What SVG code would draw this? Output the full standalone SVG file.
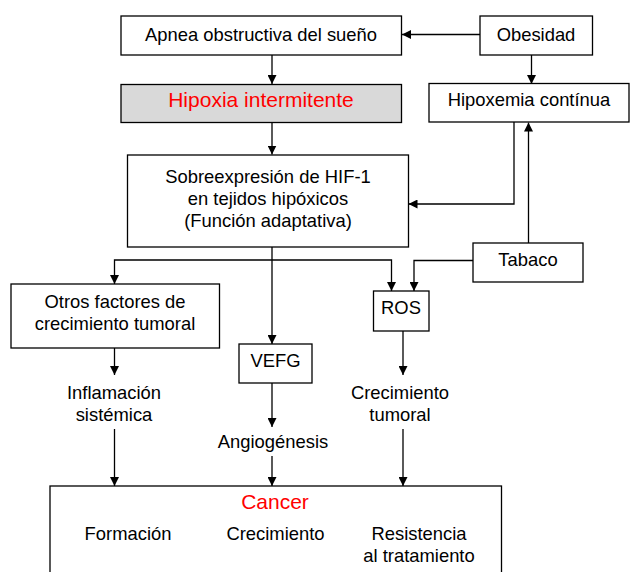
<svg xmlns="http://www.w3.org/2000/svg" width="630" height="572" viewBox="0 0 630 572">
<defs>
<marker id="ah" viewBox="0 0 10 10" refX="10" refY="5" markerWidth="9" markerHeight="9" markerUnits="userSpaceOnUse" orient="auto">
<path d="M0,0 L10,5 L0,10 Z" fill="#000"/>
</marker>
<style>
.box{fill:#fff;stroke:#000;stroke-width:1.3}
.grey{fill:#d9d9d9}
text{font-family:"Liberation Sans",Arial,sans-serif;font-size:18.4px;fill:#000;text-anchor:middle}
.red{fill:#ff0000;font-size:21px}
.c{fill:none;stroke:#000;stroke-width:1.3}
.a{marker-end:url(#ah)}
</style>
</defs>
<rect width="630" height="572" fill="#fff"/>
<g id="connectors">
<path class="c a" d="M480,34.5 H402"/>
<path class="c a" d="M272,55 V84"/>
<path class="c a" d="M531.5,55 V84"/>
<path class="c a" d="M272,122 V154.5"/>
<path class="c a" d="M514,122 V204 H408.5"/>
<path class="c a" d="M528.5,243 V122.5"/>
<path class="c a" d="M473,260.5 H414 V291"/>
<path class="c a" d="M272,247 V344"/>
<path class="c a" d="M272,260 H114.5 V284"/>
<path class="c a" d="M272,260 H391.5 V291"/>
<path class="c a" d="M114.5,348 V375"/>
<path class="c a" d="M114.5,429 V486"/>
<path class="c a" d="M272,383 V427"/>
<path class="c a" d="M272,456 V486"/>
<path class="c a" d="M403,331 V375"/>
<path class="c a" d="M403,429 V486"/>
</g>
<g id="apnea"><rect class="box" x="121" y="16" width="280.5" height="39"/><text x="261" y="41">Apnea obstructiva del sueño</text></g>
<g id="obesidad"><rect class="box" x="480" y="16" width="112.5" height="39"/><text x="536" y="41">Obesidad</text></g>
<g id="hipoxia"><rect class="box grey" x="121" y="84.5" width="280.5" height="38"/><text class="red" x="261" y="107">Hipoxia intermitente</text></g>
<g id="hipoxemia"><rect class="box" x="429" y="83.5" width="200" height="38.5"/><text x="529" y="106">Hipoxemia contínua</text></g>
<g id="hif"><rect class="box" x="127.5" y="155" width="281" height="92"/><text x="268" y="183">Sobreexpresión de HIF-1</text><text x="268" y="205">en tejidos hipóxicos</text><text x="268" y="227">(Función adaptativa)</text></g>
<g id="tabaco"><rect class="box" x="473" y="243" width="110" height="39"/><text x="528" y="266">Tabaco</text></g>
<g id="otros"><rect class="box" x="11" y="284" width="208.5" height="64"/><text x="115" y="308">Otros factores de</text><text x="115" y="330">crecimiento tumoral</text></g>
<g id="ros"><rect class="box" x="373.5" y="291" width="55.5" height="40"/><text x="401" y="314">ROS</text></g>
<g id="vefg"><rect class="box" x="239" y="344" width="73" height="39"/><text x="275.5" y="367">VEFG</text></g>
<g id="inflamacion"><text x="114" y="399">Inflamación</text><text x="114" y="421">sistémica</text></g>
<g id="crecimiento-tumoral"><text x="400" y="399">Crecimiento</text><text x="400" y="421">tumoral</text></g>
<g id="angiogenesis"><text x="273" y="448">Angiogénesis</text></g>
<g id="cancer"><rect class="box" x="50" y="486" width="451.5" height="92"/><text class="red" x="275" y="509">Cancer</text><text x="128" y="540">Formación</text><text x="275.5" y="540">Crecimiento</text><text x="419" y="540">Resistencia</text><text x="419" y="562">al tratamiento</text></g>
</svg>
